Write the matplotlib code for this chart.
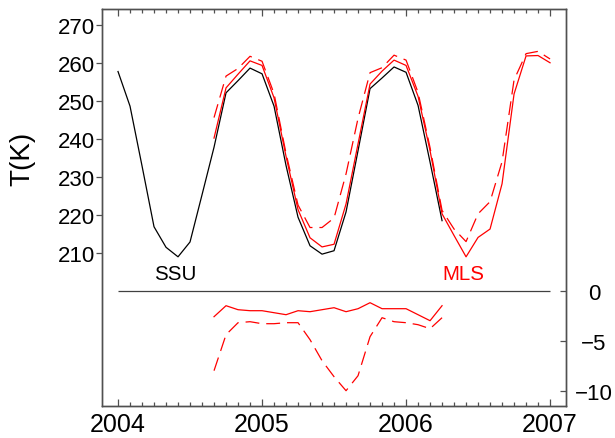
import numpy as np
import matplotlib.pyplot as plt

plt.rcParams['font.family'] = ['Liberation Sans', 'DejaVu Sans']
plt.rcParams['lines.scale_dashes'] = False

# monthly mean temperatures (K); SSU starts Jan 2004, MLS starts Sep 2004
ssu = [257.7, 248.6, 232.9, 216.9, 211.5, 209.0, 212.9, 225.3, 237.8, 252.1,
       255.3, 258.6, 257.1, 248.6, 233.0, 219.4, 211.9, 209.7, 210.6, 220.8,
       236.9, 253.2, 256.0, 258.9, 257.5, 248.8, 233.9, 218.5]
mls = [240.2, 253.4, 257.0, 260.5, 259.3, 250.8, 235.4, 221.4, 214.0, 211.6,
       212.3, 222.9, 238.7, 254.4, 257.8, 260.7, 259.3, 251.2, 236.9, 220.3,
       214.6, 209.0, 214.1, 216.3, 228.2, 251.8, 261.8, 261.9, 260.0]
mls_dash = [245.6, 256.5, 258.5, 261.7, 260.4, 251.9, 236.2, 222.6, 216.7, 216.7,
            219.2, 230.8, 245.4, 257.4, 258.7, 262.0, 260.7, 252.2, 237.7, 221.2,
            216.3, 213.0, 220.3, 223.5, 234.0, 255.5, 262.4, 263.0, 261.0]

# SSU - MLS over the overlap period (Sep 2004 - Apr 2006)
diff = [-2.6, -1.5, -1.9, -2.0, -2.0, -2.2, -2.4, -2.0, -2.1, -1.9,
        -1.7, -2.1, -1.8, -1.2, -1.8, -1.8, -1.8, -2.4, -3.0, -1.5]
diff_dash = [-8.0, -4.4, -3.2, -3.1, -3.3, -3.3, -3.2, -3.2, -4.9, -7.0,
             -8.6, -10.0, -8.5, -4.6, -2.7, -3.1, -3.2, -3.4, -3.8, -2.7]

years = [2004, 2005, 2006, 2007]
t_ticks = [210, 220, 230, 240, 250, 260, 270]
d_ticks = [0, -5, -10]

t_ssu = 2004 + np.arange(len(ssu)) / 12
t_mls = 2004 + (8 + np.arange(len(mls))) / 12
t_diff = 2004 + (8 + np.arange(len(diff))) / 12

axcol = '#505050'

fig = plt.figure(figsize=(6.15, 4.39), dpi=100)
ax = fig.add_axes([0.1659, 0.0729, 0.7545, 0.9043])
ax2 = ax.twinx()

ax.plot(t_ssu, ssu, color='black', lw=0.9)
ax.plot(t_mls, mls, color='red', lw=0.9)
ax.plot(t_mls, mls_dash, color='red', lw=0.9, dashes=(10, 5))

ax2.hlines(0, years[0], years[-1], color='#404040', lw=0.9)
ax2.plot(t_diff, diff, color='red', lw=0.9)
ax2.plot(t_diff, diff_dash, color='red', lw=0.9, dashes=(10, 5))

ax.text(2004.40, 203.2, 'SSU', color='black', fontsize=14.8, ha='center', va='baseline')
ax.text(2006.40, 203.2, 'MLS', color='red', fontsize=14.8, ha='center', va='baseline')

ax.set_xlim(2003.889, 2007.111)
ax.set_ylim(169.79, 274.13)
ax2.set_ylim(-11.53, 28.17)

ax.set_xticks(years)
ax.set_xticklabels([str(y) for y in years], fontsize=18)
ax.set_xticks(2004 + np.arange(1, 36) / 12, minor=True)
ax.tick_params(axis='x', which='both', direction='in', top=True, bottom=True,
               color=axcol, pad=4.5)
ax.tick_params(axis='x', which='major', length=5, width=0.9)
ax.tick_params(axis='x', which='minor', length=3, width=0.9)

ax.set_yticks(t_ticks)
ax.set_yticklabels([str(v) for v in t_ticks], fontsize=16)
ax.tick_params(axis='y', direction='out', length=4.3, width=0.9, color=axcol, pad=1)
ax.set_ylabel('T(K)', fontsize=20, va='center')
ax.yaxis.set_label_coords(-0.172, 0.625)

ax2.set_yticks(d_ticks)
ax2.set_yticklabels(['0', '\u22125', '\u221210'], fontsize=16)
ax2.tick_params(axis='y', direction='in', length=4.3, width=0.9, color=axcol, pad=20)
plt.setp(ax2.get_yticklabels(), ha='center')

for a in (ax, ax2):
    for s in a.spines.values():
        s.set_color(axcol)
        s.set_linewidth(1.0)

fig.savefig('out.png', dpi=100)
